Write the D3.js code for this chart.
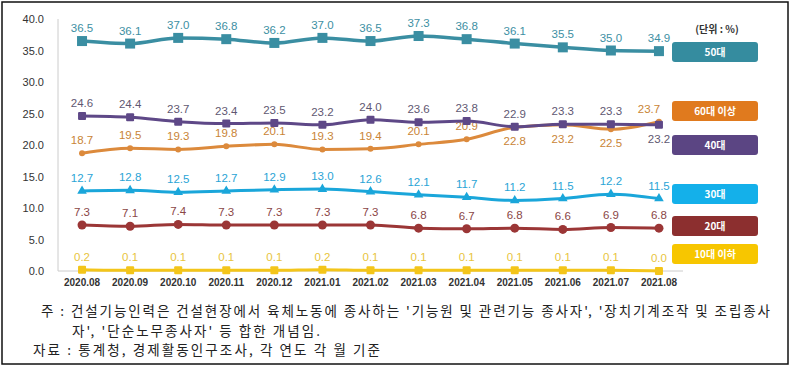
<!DOCTYPE html>
<meta charset="utf-8">
<style>
body { margin: 0; background: #fff; font-family: "Noto Sans CJK KR", "Noto Sans", sans-serif; }
.tick text { fill: #333; }
.axis path, .axis line { stroke: #bbb; }
</style>
<svg width="792" height="368"></svg>
<script src="https://cdn.jsdelivr.net/npm/d3@7"></script>
<script>
var months = ["2020.08","2020.09","2020.10","2020.11","2020.12","2021.01","2021.02","2021.03","2021.04","2021.05","2021.06","2021.07","2021.08"];
var yTicks = [0, 5, 10, 15, 20, 25, 30, 35, 40];

var age50 = [36.5, 36.1, 37.0, 36.8, 36.2, 37.0, 36.5, 37.3, 36.8, 36.1, 35.5, 35.0, 34.9];
var age40 = [24.6, 24.4, 23.7, 23.4, 23.5, 23.2, 24.0, 23.6, 23.8, 22.9, 23.3, 23.3, 23.2];
var age60 = [18.7, 19.5, 19.3, 19.8, 20.1, 19.3, 19.4, 20.1, 20.9, 22.8, 23.2, 22.5, 23.7];
var age30 = [12.7, 12.8, 12.5, 12.7, 12.9, 13.0, 12.6, 12.1, 11.7, 11.2, 11.5, 12.2, 11.5];
var age20 = [7.3, 7.1, 7.4, 7.3, 7.3, 7.3, 7.3, 6.8, 6.7, 6.8, 6.6, 6.9, 6.8];
var age10 = [0.2, 0.1, 0.1, 0.1, 0.1, 0.2, 0.1, 0.1, 0.1, 0.1, 0.1, 0.1, 0.0];

var series = [
  {name: "50대", values: age50, color: "#3a8ea2", label: "#3d8fa3", marker: "square", legendY: 42},
  {name: "60대 이상", values: age60, color: "#dc8a3c", label: "#c98436", marker: "dot", legendY: 101, below: [9, 10, 11]},
  {name: "40대", values: age40, color: "#5e4887", label: "#5f5872", marker: "sq-small", legendY: 135, below: [12]},
  {name: "30대", values: age30, color: "#1aa6da", label: "#2aa4d6", marker: "triangle", legendY: 184},
  {name: "20대", values: age20, color: "#9b3636", label: "#8a4646", marker: "circle", legendY: 216},
  {name: "10대 이하", values: age10, color: "#f3c51a", label: "#e8c43c", marker: "sq-yellow", legendY: 244}
];
var legendFill = {"50대": "#358c9f", "60대 이상": "#e07a1e", "40대": "#5b4583", "30대": "#14b0ea", "20대": "#8c2f2f", "10대 이하": "#f7c600"};

var svg = d3.select("svg");

// frame
svg.append("rect").attr("x", 2).attr("y", 2).attr("width", 786).attr("height", 362)
  .attr("fill", "none").attr("stroke", "#111").attr("stroke-width", 1.5);

var x = d3.scaleBand().domain(months).range([58, 683]);
var y = d3.scaleLinear().domain([0, 40]).range([271, 19]);

var cx = function(i) { return x(months[i]) + x.bandwidth() / 2; };

// axes
svg.append("line").attr("x1", 58).attr("x2", 58).attr("y1", 19).attr("y2", 271).attr("stroke", "#ccc");
svg.append("line").attr("x1", 58).attr("x2", 683).attr("y1", 271).attr("y2", 271).attr("stroke", "#ccc");

svg.append("g")
  .attr("transform", "translate(47,0)")
  .call(d3.axisLeft(y).tickValues(yTicks).tickSize(0).tickFormat(d3.format(".1f")))
  .call(function(g) { g.select(".domain").remove(); })
  .selectAll("text").style("font-size", "11px").style("font-family", "Arial");

svg.append("g")
  .attr("transform", "translate(0,276)")
  .call(d3.axisBottom(x).tickSize(0))
  .call(function(g) { g.select(".domain").remove(); })
  .selectAll("text").style("font-size", "10px").style("font-family", "Arial").style("font-weight", "bold").attr("fill", "#444");

var line = d3.line().x(function(d, i) { return cx(i); }).y(function(d) { return y(d); }).curve(d3.curveMonotoneX);

series.forEach(function(s) {
  var g = svg.append("g");
  g.append("path").attr("d", line(s.values)).attr("fill", "none")
    .attr("stroke", s.color).attr("stroke-width", s.marker === "square" ? 3.5 : 3);

  g.selectAll(".m").data(s.values).enter().each(function(d, i) {
    var el = d3.select(this), px = cx(i), py = y(d);
    if (s.marker === "square") {
      el.append("rect").attr("x", px - 5).attr("y", py - 5).attr("width", 10).attr("height", 10).attr("fill", s.color);
    } else if (s.marker === "sq-small" || s.marker === "sq-yellow") {
      el.append("rect").attr("x", px - 4).attr("y", py - 4).attr("width", 8).attr("height", 8).attr("rx", 1).attr("fill", s.color);
    } else if (s.marker === "triangle") {
      el.append("path").attr("d", d3.symbol(d3.symbolTriangle, 40)()).attr("transform", "translate(" + px + "," + py + ")").attr("fill", s.color);
    } else if (s.marker === "circle") {
      el.append("circle").attr("cx", px).attr("cy", py).attr("r", 4.5).attr("fill", s.color);
    } else {
      el.append("circle").attr("cx", px).attr("cy", py).attr("r", 3).attr("fill", s.color);
    }
  });

  g.selectAll(".lbl").data(s.values).enter().append("text")
    .attr("x", function(d, i) { return cx(i) - (s.name === "60대 이상" && i === 12 ? 10 : 0); })
    .attr("y", function(d, i) { return (s.below && s.below.indexOf(i) >= 0) ? y(d) + 18 : y(d) - 9; })
    .attr("text-anchor", "middle")
    .style("font-family", "Arial").style("font-size", "11.5px")
    .attr("fill", s.label)
    .text(function(d) { return d.toFixed(1); });

  // legend
  svg.append("rect").attr("x", 672).attr("y", s.legendY).attr("width", 86).attr("height", 20).attr("rx", 3)
    .attr("fill", legendFill[s.name]);
  svg.append("text").attr("x", 715).attr("y", s.legendY + 14).attr("text-anchor", "middle")
    .attr("fill", "#fff").style("font-size", "10px").style("font-weight", "bold").text(s.name);
});

svg.append("text").attr("x", 717).attr("y", 33).attr("text-anchor", "middle")
  .style("font-size", "10px").style("font-weight", "bold").attr("fill", "#333").text("(단위 : %)");

// footnotes
var notes = [
  {text: "주 : 건설기능인력은 건설현장에서 육체노동에 종사하는 '기능원 및 관련기능 종사자', '장치기계조작 및 조립종사", x: 41, y: 316, len: 729},
  {text: "자', '단순노무종사자' 등 합한 개념임.", x: 72, y: 336, len: 248},
  {text: "자료 : 통계청, 경제활동인구조사, 각 연도 각 월 기준", x: 33, y: 355, len: 347}
];
notes.forEach(function(n) {
  svg.append("text").attr("x", n.x).attr("y", n.y).style("font-size", "13.5px").attr("fill", "#222")
    .attr("textLength", n.len).attr("lengthAdjust", "spacing").text(n.text);
});
</script>
